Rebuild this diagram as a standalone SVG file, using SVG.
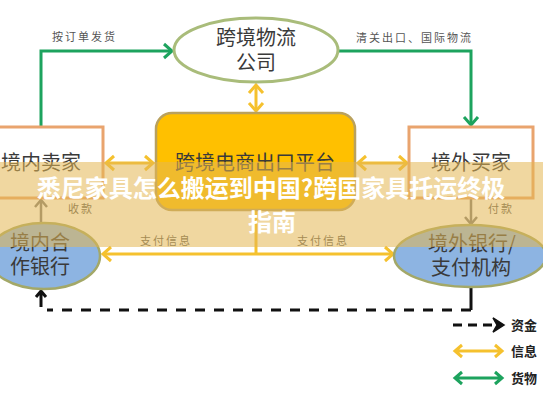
<svg xmlns="http://www.w3.org/2000/svg" width="543" height="408" viewBox="0 0 543 408">
<defs>
<style>
.node{font-family:"Noto Sans CJK SC","Noto Sans",sans-serif;font-size:20px;fill:#3a3a3a;text-anchor:middle}
.lbl{font-family:"Noto Sans CJK SC",sans-serif;font-size:11px;fill:#555;letter-spacing:2px}
.leg{font-family:"Noto Sans CJK SC",sans-serif;font-size:13px;font-weight:bold;fill:#222}
.yel{stroke:#F5C12E;stroke-width:3;fill:none}
.grn{stroke:#1DA35E;stroke-width:3;fill:none}
.gry{stroke:#7a7a7a;stroke-width:2.5;fill:none}
.blk{stroke:#111;stroke-width:3;fill:none}
.title{font-family:"Noto Sans CJK SC",sans-serif;font-size:24px;font-weight:bold;fill:#fff;text-anchor:middle}
</style>
</defs>
<rect width="543" height="408" fill="#fff"/>

<g id="connectors">
  <!-- green goods -->
  <path class="grn" d="M41,127 V51 H172"/>
  <path class="grn" d="M164,44 L172,51 L164,58"/>
  <path class="grn" d="M338,51 H471 V125"/>
  <path class="grn" d="M464,117 L471,125 L478,117"/>
  <!-- yellow info -->
  <path class="yel" d="M106,163 H153"/>
  <path class="yel" d="M114,156 L106,163 L114,170 M145,156 L153,163 L145,170"/>
  <path class="yel" d="M358,163 H407"/>
  <path class="yel" d="M366,156 L358,163 L366,170 M399,156 L407,163 L399,170"/>
  <path class="yel" d="M256,85 V111"/>
  <path class="yel" d="M249,93 L256,85 L263,93 M249,103 L256,111 L263,103"/>
  <path class="yel" d="M256,210 V254 M103,254 H393"/>
  <path class="yel" d="M111,247 L103,254 L111,261 M385,247 L393,254 L385,261"/>
  <!-- gray money -->
  <path class="gry" d="M41,222 V200"/>
  <path class="gry" d="M35,207 L41,200 L47,207"/>
  <path class="gry" d="M471,198 V224"/>
  <path class="gry" d="M465,217 L471,224 L477,217"/>
  <!-- black dashed funds -->
  <path class="blk" d="M471,287 V310"/>
  <path class="blk" d="M471,310 H47" stroke-dasharray="10,9"/>
  <path class="blk" d="M41,307 V291 M36,297 L41,291 L46,297"/>
  <text class="lbl" x="52" y="41">按订单发货</text>
  <text class="lbl" x="356" y="42">清关出口、国际物流</text>
  <text class="lbl" x="68" y="213">收款</text>
  <text class="lbl" x="488" y="213">付款</text>
  <text class="lbl" x="140" y="245">支付信息</text>
  <text class="lbl" x="297" y="245">支付信息</text>
</g>

<g id="node-logistics">
  <ellipse cx="256" cy="50" rx="82" ry="32" fill="#fff" stroke="#A9BC7A" stroke-width="3"/>
  <text class="node" x="256" y="45">跨境物流</text>
  <text class="node" x="256" y="70">公司</text>
</g>
<g id="node-seller">
  <rect x="-5" y="127" width="108" height="71" fill="#fff" stroke="#E9A46E" stroke-width="3"/>
  <text class="node" x="41" y="170">境内卖家</text>
</g>
<g id="node-platform">
  <rect x="156" y="113" width="199" height="97" rx="16" fill="#FFC000" stroke="#B9A15E" stroke-width="2.5"/>
  <text class="node" x="255" y="170">跨境电商出口平台</text>
</g>
<g id="node-buyer">
  <rect x="409" y="127" width="124" height="71" fill="#fff" stroke="#E9A46E" stroke-width="3"/>
  <text class="node" x="471" y="170">境外买家</text>
</g>
<g id="node-domestic-bank">
  <ellipse cx="44" cy="256" rx="56" ry="33" fill="#8DB4E2" stroke="#A3A868" stroke-width="2.5"/>
  <text class="node" x="40" y="250">境内合</text>
  <text class="node" x="40" y="274">作银行</text>
</g>
<g id="node-foreign-bank">
  <ellipse cx="470" cy="256" rx="76" ry="31" fill="#8DB4E2" stroke="#A3A868" stroke-width="2.5"/>
  <text class="node" x="472" y="251">境外银行/</text>
  <text class="node" x="471" y="275">支付机构</text>
</g>

<g id="legend">
  <path class="blk" d="M453,325 H492" stroke-dasharray="9,6"/>
  <path d="M493,318 L504,325 L493,332 L497,325 Z" fill="#111" stroke="#111" stroke-width="1.5"/>
  <text class="leg" x="511" y="330">资金</text>
  <path class="yel" d="M455,351 H502 M462,345 L455,351 L462,357 M495,345 L502,351 L495,357"/>
  <text class="leg" x="511" y="356">信息</text>
  <path class="grn" d="M455,378 H502 M462,372 L455,378 L462,384 M495,372 L502,378 L495,384" stroke-width="2.5"/>
  <text class="leg" x="511" y="383">货物</text>
</g>

<g id="overlay">
  <rect x="0" y="162" width="543" height="85" fill="rgb(228,182,82)" fill-opacity="0.55"/>
  <text class="title" x="271" y="197">悉尼家具怎么搬运到中国?跨国家具托运终极</text>
  <text class="title" x="272" y="231">指南</text>
</g>
</svg>
